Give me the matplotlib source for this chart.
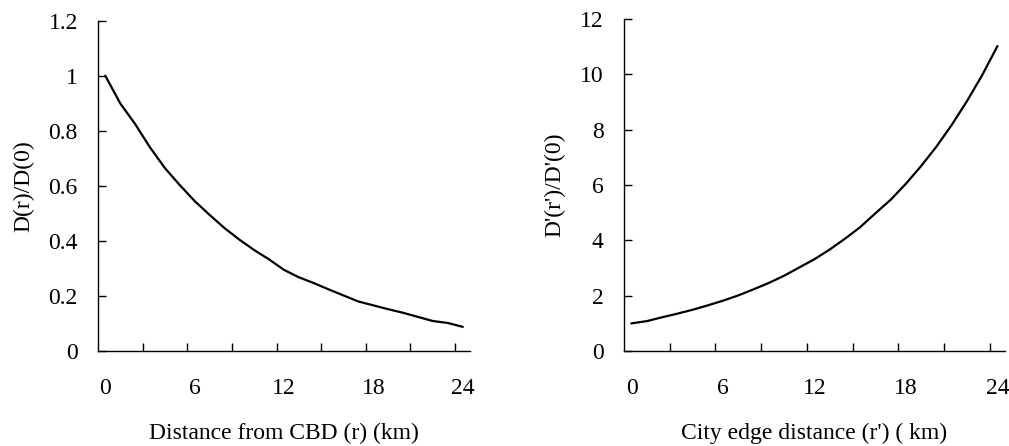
import matplotlib
matplotlib.use('Agg')
import matplotlib.pyplot as plt
import numpy as np

# distance (km), one point per km
r = list(range(25))
# D(r)/D(0)
d_cbd = [1.0, 0.9, 0.825, 0.74, 0.665, 0.603, 0.545, 0.495, 0.447, 0.405, 0.367, 0.333,
         0.295, 0.268, 0.247, 0.224, 0.202, 0.18, 0.166, 0.152, 0.139, 0.124, 0.109, 0.102, 0.088]
# D'(r')/D'(0)
d_edge = [1.0, 1.08, 1.22, 1.35, 1.49, 1.65, 1.82, 2.01, 2.23, 2.46, 2.72, 3.02,
          3.32, 3.67, 4.06, 4.48, 4.98, 5.47, 6.05, 6.69, 7.39, 8.17, 9.03, 9.97, 11.02]

x_labels = [0, 6, 12, 18, 24]

plt.rcParams['font.family'] = ['Liberation Serif', 'DejaVu Serif']
plt.rcParams['font.size'] = 17

fig = plt.figure(figsize=(10.09, 4.46), dpi=100)
ax1 = fig.add_axes([0.0971, 0.213, 0.3687, 0.740])
ax2 = fig.add_axes([0.6184, 0.213, 0.3776, 0.744])


def style(ax, yticks, ylabel, xlabel, labelpad):
    for s in ['top', 'right']:
        ax.spines[s].set_visible(False)
    for s in ['left', 'bottom']:
        ax.spines[s].set_linewidth(1.0)
    ax.set_xlim(-0.5, 24.5)
    ax.set_ylim(yticks[0], yticks[-1])
    ax.set_yticks(yticks)
    ax.set_yticklabels(['%g' % t for t in yticks])
    ax.set_xticks(x_labels)
    ax.set_xticks(np.arange(2.5, 24, 3), minor=True)
    ax.tick_params(axis='x', which='major', length=0, pad=19.5)
    ax.tick_params(axis='x', which='minor', direction='in', length=5.8, width=1.0)
    ax.tick_params(axis='y', direction='in', length=5.5, width=1.0, pad=14.5)
    ax.set_xlabel(xlabel, labelpad=17)
    ax.set_ylabel(ylabel, labelpad=labelpad)


ax1.plot(r, d_cbd, color='black', linewidth=1.6, clip_on=False)
style(ax1, [0, 0.2, 0.4, 0.6, 0.8, 1, 1.2], 'D(r)/D(0)', 'Distance from CBD (r) (km)', 10)

ax2.plot(r, d_edge, color='black', linewidth=1.6, clip_on=False)
style(ax2, [0, 2, 4, 6, 8, 10, 12], "D'(r')/D'(0)", "City edge distance (r') ( km)", 11)

plt.savefig('out.png', dpi=100)
